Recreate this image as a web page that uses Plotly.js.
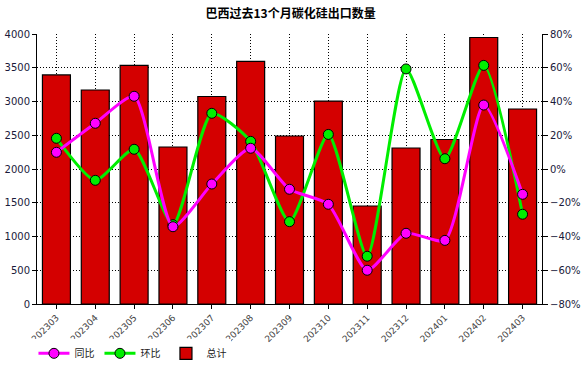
<!DOCTYPE html>
<html><head><meta charset="utf-8">
<script src="https://cdn.plot.ly/plotly-3.0.1.min.js"></script>
<style>html,body{margin:0;padding:0;background:#fff}#c{width:587px;height:366px}</style>
</head><body><div id="c"></div>
<script>
const months = ["202303","202304","202305","202306","202307","202308","202309","202310","202311","202312","202401","202402","202403"];
const total = [3393,3170,3535,2326,3074,3593,2489,3007,1452,2311,2437,3948,2889];
const yoy = [9.9,27.1,43.1,-34.2,-8.9,12.3,-12.0,-20.9,-60.0,-38.1,-42.3,37.9,-15.0];
const mom = [18.2,-6.7,11.7,-33.0,33.0,16.4,-31.2,20.5,-51.7,59.3,6.1,61.4,-26.8];

const traces = [
  {type:'bar', x:months, y:total, name:'总计', legendrank:3, width:0.72,
   marker:{color:'#d40000', line:{color:'#000', width:1.2}}, yaxis:'y'},
  {type:'scatter', mode:'lines+markers', x:months, y:mom, name:'环比', legendrank:2, yaxis:'y2',
   line:{color:'#00ee00', width:3, shape:'spline', smoothing:0.6},
   marker:{color:'#00ee00', size:10, line:{color:'#000', width:1}}},
  {type:'scatter', mode:'lines+markers', x:months, y:yoy, name:'同比', legendrank:1, yaxis:'y2',
   line:{color:'#ff00ff', width:3, shape:'spline', smoothing:0.6},
   marker:{color:'#ff00ff', size:10, line:{color:'#000', width:1}}}
];
const layout = {
  width:587, height:366,
  margin:{l:37, r:45, t:34, b:62, autoexpand:false},
  paper_bgcolor:'#fff', plot_bgcolor:'#fff',
  font:{family:'"DejaVu Sans", sans-serif', size:10, color:'#000'},
  title:{text:'巴西过去13个月碳化硅出口数量', x:0.495, xanchor:'center', y:0.975, yanchor:'top',
         font:{family:'"Noto Sans CJK SC", sans-serif', size:12, color:'#000', weight:'bold'}},
  showlegend:true,
  legend:{orientation:'h', x:-0.007, xanchor:'left', y:-0.129, yanchor:'top',
          font:{family:'"Noto Sans CJK SC", sans-serif', size:10, color:'#222'}, itemwidth:31, tracegroupgap:0},
  xaxis:{type:'category', range:[-0.5,12.5], tickangle:-45, showgrid:true, gridcolor:'#000', griddash:'1px,2px', gridwidth:1,
         showline:true, linecolor:'#000', linewidth:1, ticks:'outside', ticklen:4, tickcolor:'#000',
         tickfont:{size:9, color:'#444'}, zeroline:false, automargin:false},
  yaxis:{range:[0,4000], dtick:500, showgrid:true, gridcolor:'#000', griddash:'1px,2px', gridwidth:1,
         showline:true, linecolor:'#000', linewidth:1, ticks:'outside', ticklen:4, tickcolor:'#000',
         tickfont:{size:10, color:'#1a1a3a'}, zeroline:false, automargin:false},
  yaxis2:{range:[-80,80], dtick:20, overlaying:'y', side:'right', showgrid:false,
          showline:true, linecolor:'#000', linewidth:1, ticks:'outside', ticklen:5, tickcolor:'#000',
          ticksuffix:'%', tickfont:{size:10, color:'#1a1a3a'}, zeroline:false, automargin:false}
};
Plotly.newPlot('c', traces, layout, {displayModeBar:false, staticPlot:true});
</script></body></html>
